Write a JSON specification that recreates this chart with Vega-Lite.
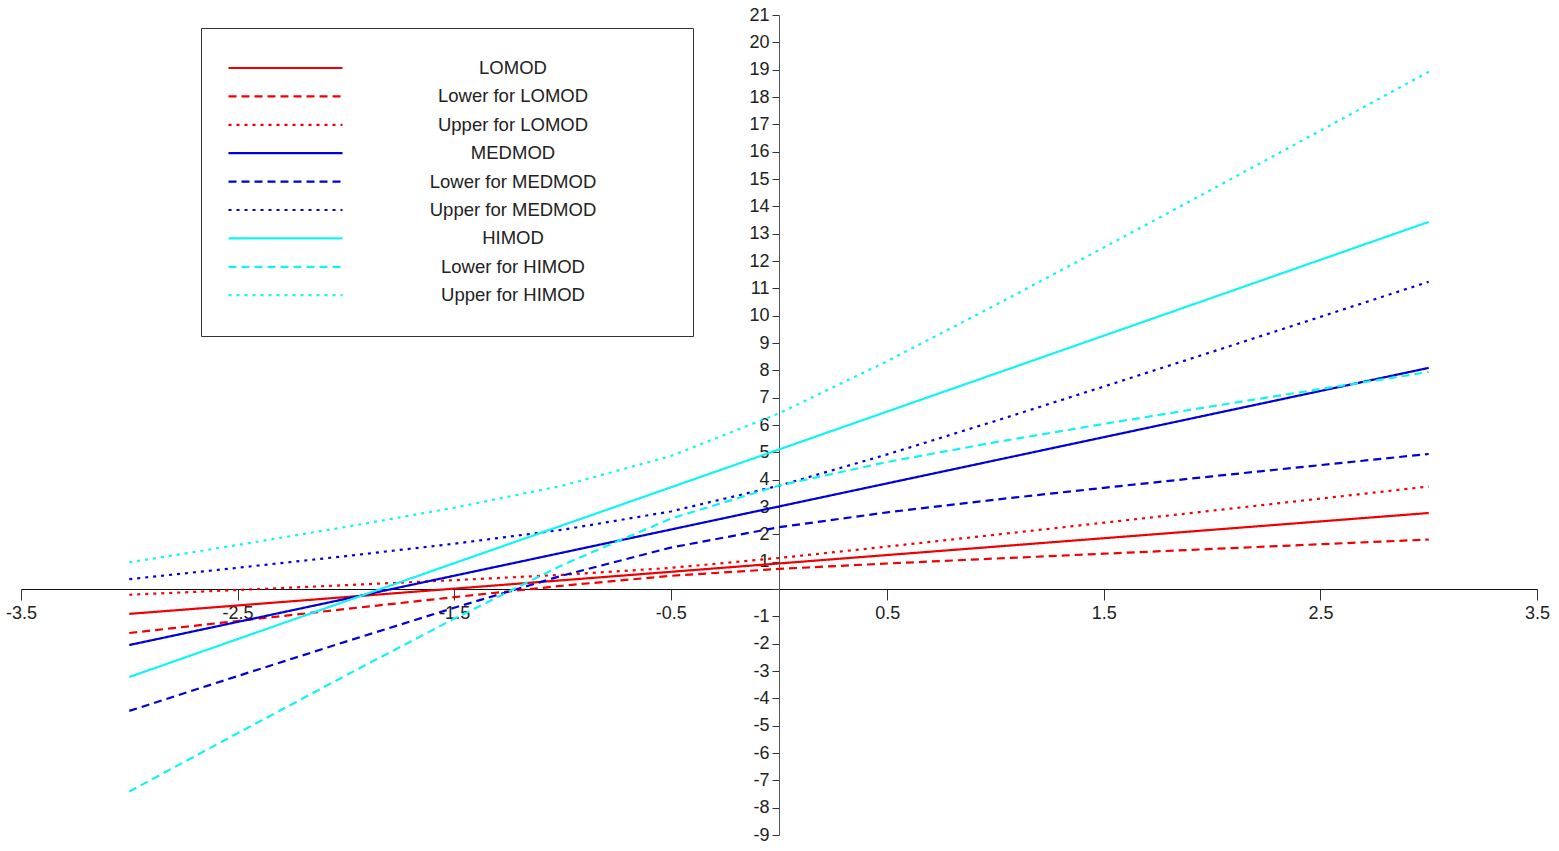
{
  "$schema": "https://vega.github.io/schema/vega-lite/v6.json",
  "width": 1516,
  "height": 820,
  "autosize": {"type": "none"},
  "padding": {"left": 21, "top": 15, "right": 22, "bottom": 16},
  "background": "white",
  "config": {
    "view": {"stroke": null},
    "font": "Liberation Sans",
    "axis": {"grid": false, "labelFont": "Liberation Sans", "labelFontSize": 18, "labelColor": "#222", "domainColor": "#333", "tickColor": "#333", "title": null}
  },
  "data": {"values": [
    {"s":"LOMOD","x":-3,"y":-0.91},{"s":"LOMOD","x":-2.5,"y":-0.603},{"s":"LOMOD","x":-2,"y":-0.295},{"s":"LOMOD","x":-1.5,"y":0.013},{"s":"LOMOD","x":-1,"y":0.32},{"s":"LOMOD","x":-0.5,"y":0.628},{"s":"LOMOD","x":0,"y":0.935},{"s":"LOMOD","x":0.5,"y":1.243},{"s":"LOMOD","x":1,"y":1.55},{"s":"LOMOD","x":1.5,"y":1.858},{"s":"LOMOD","x":2,"y":2.165},{"s":"LOMOD","x":2.5,"y":2.473},{"s":"LOMOD","x":3,"y":2.78},
    {"s":"Lower for LOMOD","x":-3,"y":-1.61},{"s":"Lower for LOMOD","x":-2.5,"y":-1.17},{"s":"Lower for LOMOD","x":-2,"y":-0.731},{"s":"Lower for LOMOD","x":-1.5,"y":-0.298},{"s":"Lower for LOMOD","x":-1,"y":0.12},{"s":"Lower for LOMOD","x":-0.5,"y":0.482},{"s":"Lower for LOMOD","x":0,"y":0.735},{"s":"Lower for LOMOD","x":0.5,"y":0.933},{"s":"Lower for LOMOD","x":1,"y":1.114},{"s":"Lower for LOMOD","x":1.5,"y":1.291},{"s":"Lower for LOMOD","x":2,"y":1.465},{"s":"Lower for LOMOD","x":2.5,"y":1.638},{"s":"Lower for LOMOD","x":3,"y":1.81},
    {"s":"Upper for LOMOD","x":-3,"y":-0.21},{"s":"Upper for LOMOD","x":-2.5,"y":-0.036},{"s":"Upper for LOMOD","x":-2,"y":0.141},{"s":"Upper for LOMOD","x":-1.5,"y":0.323},{"s":"Upper for LOMOD","x":-1,"y":0.52},{"s":"Upper for LOMOD","x":-0.5,"y":0.774},{"s":"Upper for LOMOD","x":0,"y":1.135},{"s":"Upper for LOMOD","x":0.5,"y":1.553},{"s":"Upper for LOMOD","x":1,"y":1.986},{"s":"Upper for LOMOD","x":1.5,"y":2.425},{"s":"Upper for LOMOD","x":2,"y":2.865},{"s":"Upper for LOMOD","x":2.5,"y":3.308},{"s":"Upper for LOMOD","x":3,"y":3.75},
    {"s":"MEDMOD","x":-3,"y":-2.05},{"s":"MEDMOD","x":-2.5,"y":-1.205},{"s":"MEDMOD","x":-2,"y":-0.36},{"s":"MEDMOD","x":-1.5,"y":0.485},{"s":"MEDMOD","x":-1,"y":1.33},{"s":"MEDMOD","x":-0.5,"y":2.175},{"s":"MEDMOD","x":0,"y":3.02},{"s":"MEDMOD","x":0.5,"y":3.865},{"s":"MEDMOD","x":1,"y":4.71},{"s":"MEDMOD","x":1.5,"y":5.555},{"s":"MEDMOD","x":2,"y":6.4},{"s":"MEDMOD","x":2.5,"y":7.245},{"s":"MEDMOD","x":3,"y":8.09},
    {"s":"Lower for MEDMOD","x":-3,"y":-4.46},{"s":"Lower for MEDMOD","x":-2.5,"y":-3.186},{"s":"Lower for MEDMOD","x":-2,"y":-1.924},{"s":"Lower for MEDMOD","x":-1.5,"y":-0.686},{"s":"Lower for MEDMOD","x":-1,"y":0.492},{"s":"Lower for MEDMOD","x":-0.5,"y":1.514},{"s":"Lower for MEDMOD","x":0,"y":2.26},{"s":"Lower for MEDMOD","x":0.5,"y":2.805},{"s":"Lower for MEDMOD","x":1,"y":3.27},{"s":"Lower for MEDMOD","x":1.5,"y":3.703},{"s":"Lower for MEDMOD","x":2,"y":4.122},{"s":"Lower for MEDMOD","x":2.5,"y":4.533},{"s":"Lower for MEDMOD","x":3,"y":4.94},
    {"s":"Upper for MEDMOD","x":-3,"y":0.36},{"s":"Upper for MEDMOD","x":-2.5,"y":0.776},{"s":"Upper for MEDMOD","x":-2,"y":1.204},{"s":"Upper for MEDMOD","x":-1.5,"y":1.656},{"s":"Upper for MEDMOD","x":-1,"y":2.168},{"s":"Upper for MEDMOD","x":-0.5,"y":2.836},{"s":"Upper for MEDMOD","x":0,"y":3.78},{"s":"Upper for MEDMOD","x":0.5,"y":4.925},{"s":"Upper for MEDMOD","x":1,"y":6.15},{"s":"Upper for MEDMOD","x":1.5,"y":7.407},{"s":"Upper for MEDMOD","x":2,"y":8.678},{"s":"Upper for MEDMOD","x":2.5,"y":9.957},{"s":"Upper for MEDMOD","x":3,"y":11.24},
    {"s":"HIMOD","x":-3,"y":-3.22},{"s":"HIMOD","x":-2.5,"y":-1.833},{"s":"HIMOD","x":-2,"y":-0.445},{"s":"HIMOD","x":-1.5,"y":0.943},{"s":"HIMOD","x":-1,"y":2.33},{"s":"HIMOD","x":-0.5,"y":3.718},{"s":"HIMOD","x":0,"y":5.105},{"s":"HIMOD","x":0.5,"y":6.493},{"s":"HIMOD","x":1,"y":7.88},{"s":"HIMOD","x":1.5,"y":9.268},{"s":"HIMOD","x":2,"y":10.655},{"s":"HIMOD","x":2.5,"y":12.043},{"s":"HIMOD","x":3,"y":13.43},
    {"s":"Lower for HIMOD","x":-3,"y":-7.411},{"s":"Lower for HIMOD","x":-2.5,"y":-5.276},{"s":"Lower for HIMOD","x":-2,"y":-3.161},{"s":"Lower for HIMOD","x":-1.5,"y":-1.088},{"s":"Lower for HIMOD","x":-1,"y":0.88},{"s":"Lower for HIMOD","x":-0.5,"y":2.574},{"s":"Lower for HIMOD","x":0,"y":3.785},{"s":"Lower for HIMOD","x":0.5,"y":4.648},{"s":"Lower for HIMOD","x":1,"y":5.371},{"s":"Lower for HIMOD","x":1.5,"y":6.041},{"s":"Lower for HIMOD","x":2,"y":6.685},{"s":"Lower for HIMOD","x":2.5,"y":7.316},{"s":"Lower for HIMOD","x":3,"y":7.939},
    {"s":"Upper for HIMOD","x":-3,"y":0.971},{"s":"Upper for HIMOD","x":-2.5,"y":1.61},{"s":"Upper for HIMOD","x":-2,"y":2.271},{"s":"Upper for HIMOD","x":-1.5,"y":2.974},{"s":"Upper for HIMOD","x":-1,"y":3.78},{"s":"Upper for HIMOD","x":-0.5,"y":4.862},{"s":"Upper for HIMOD","x":0,"y":6.425},{"s":"Upper for HIMOD","x":0.5,"y":8.338},{"s":"Upper for HIMOD","x":1,"y":10.389},{"s":"Upper for HIMOD","x":1.5,"y":12.495},{"s":"Upper for HIMOD","x":2,"y":14.625},{"s":"Upper for HIMOD","x":2.5,"y":16.77},{"s":"Upper for HIMOD","x":3,"y":18.921}
  ]},
  "mark": {"type": "line", "strokeWidth": 2.2, "strokeCap": "butt"},
  "encoding": {
    "x": {
      "field": "x", "type": "quantitative",
      "scale": {"domain": [-3.5, 3.5], "nice": false, "zero": false},
      "axis": {
        "orient": "bottom",
        "offset": {"expr": "scale('y', 0) - height"},
        "values": [-3.5, -2.5, -1.5, -0.5, 0.5, 1.5, 2.5, 3.5],
        "format": ".1f",
        "labelExpr": "replace(datum.label, '\u2212', '-')",
        "tickSize": 11,
        "labelPadding": 4,
        "domainColor": "#111",
        "labelFlush": false,
        "labelOverlap": false
      }
    },
    "y": {
      "field": "y", "type": "quantitative",
      "scale": {"domain": [-9, 21], "nice": false, "zero": false},
      "axis": {
        "orient": "left",
        "offset": {"expr": "-scale('x', 0)"},
        "values": [-9,-8,-7,-6,-5,-4,-3,-2,-1,0,1,2,3,4,5,6,7,8,9,10,11,12,13,14,15,16,17,18,19,20,21],
        "labelExpr": "datum.value == 0 ? '' : replace(datum.label, '\u2212', '-')",
        "tickSize": 7,
        "labelPadding": 3,
        "domainColor": "#555",
        "labelOverlap": false,
        "labelFlush": false
      }
    },
    "color": {
      "field": "s", "type": "nominal",
      "scale": {
        "domain": ["LOMOD","Lower for LOMOD","Upper for LOMOD","MEDMOD","Lower for MEDMOD","Upper for MEDMOD","HIMOD","Lower for HIMOD","Upper for HIMOD"],
        "range": ["#f00000","#f00000","#f00000","#0000d8","#0000d8","#0000d8","#10f4f4","#10f4f4","#10f4f4"]
      },
      "legend": {
        "title": null,
        "orient": "none",
        "legendX": 180,
        "legendY": 13,
        "symbolType": "stroke",
        "symbolSize": 12996,
        "symbolStrokeWidth": 2.2,
        "clipHeight": 28,
        "rowPadding": 0.4,
        "labelFont": "Liberation Sans",
        "labelFontSize": 18.5,
        "labelColor": "#222",
        "labelAlign": "center",
        "labelOffset": 169,
        "labelLimit": 600,
        "labelExpr": "'\u2800\u2800\u2800\u2800\u2800' + datum.label + '\u2800\u2800\u2800\u2800\u2800'",
        "padding": 26,
        "strokeColor": "#333",
        "fillColor": "white"
      }
    },
    "strokeDash": {
      "field": "s", "type": "nominal",
      "scale": {
        "domain": ["LOMOD","Lower for LOMOD","Upper for LOMOD","MEDMOD","Lower for MEDMOD","Upper for MEDMOD","HIMOD","Lower for HIMOD","Upper for HIMOD"],
        "range": [[1,0],[8,5],[3,5],[1,0],[8,5],[3,5],[1,0],[8,5],[3,5]]
      },
      "legend": {
        "title": null,
        "orient": "none",
        "legendX": 180,
        "legendY": 13,
        "symbolType": "stroke",
        "symbolSize": 12996,
        "symbolStrokeWidth": 2.2,
        "clipHeight": 28,
        "rowPadding": 0.4,
        "labelFont": "Liberation Sans",
        "labelFontSize": 18.5,
        "labelColor": "#222",
        "labelAlign": "center",
        "labelOffset": 169,
        "labelLimit": 600,
        "labelExpr": "'\u2800\u2800\u2800\u2800\u2800' + datum.label + '\u2800\u2800\u2800\u2800\u2800'",
        "padding": 26,
        "strokeColor": "#333",
        "fillColor": "white"
      }
    },
    "order": {"field": "x", "type": "quantitative"}
  }
}
